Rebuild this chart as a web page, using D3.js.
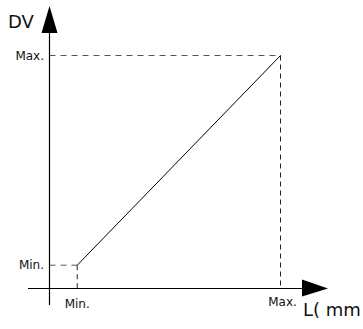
<!DOCTYPE html>
<html>
<head>
<meta charset="utf-8">
<script src="https://cdn.jsdelivr.net/npm/d3@7"></script>
<style>
  html, body { margin: 0; padding: 0; background: #fff; }
  svg { display: block; }
  text { font-family: "DejaVu Sans", sans-serif; fill: #111; }
</style>
</head>
<body>
<svg id="chart"></svg>
<script>
/* data */
const xLabels = ["Min.", "Max."];
const xValues = [12, 100];
const yLabels = ["Min.", "Max."];
const yValues = [10, 100];
const xTitle = "L( mm";
const yTitle = "DV";

/* chart */
!(function() {
  let width = 363;
  let height = 329;

  let svg = d3.select("#chart")
    .attr("width", width)
    .attr("height", height);

  // origin of the plot sits at (49.5, 288.5)
  let x = d3.scaleLinear().domain([0, 100]).range([49.5, 280.5]);
  let y = d3.scaleLinear().domain([0, 100]).range([288.5, 55.5]);

  let points = xValues.map((d, i) => ({ l: d, dv: yValues[i] }));

  // axes
  svg.append("line")
    .attr("x1", x(0)).attr("x2", x(0))
    .attr("y1", 305).attr("y2", 30)
    .attr("stroke", "#000").attr("stroke-width", 1.2);

  svg.append("line")
    .attr("x1", 28).attr("x2", 304)
    .attr("y1", y(0)).attr("y2", y(0))
    .attr("stroke", "#000").attr("stroke-width", 1.2);

  svg.append("path")
    .attr("d", `M${x(0)},6 L${x(0) - 8},33 L${x(0) + 8},33 Z`)
    .attr("fill", "#000");

  svg.append("path")
    .attr("d", `M328,${y(0)} L302,${y(0) - 9} L302,${y(0) + 8} Z`)
    .attr("fill", "#000");

  // guide dashes
  points.forEach(p => {
    svg.append("line")
      .attr("x1", x(0)).attr("x2", x(p.l))
      .attr("y1", y(p.dv)).attr("y2", y(p.dv))
      .attr("stroke", "#555").attr("stroke-dasharray", "6,5");
    svg.append("line")
      .attr("x1", x(p.l)).attr("x2", x(p.l))
      .attr("y1", y(p.dv)).attr("y2", y(0))
      .attr("stroke", "#222").attr("stroke-dasharray", "5,4");
  });

  // the DV / L line
  let line = d3.line()
    .x(d => x(d.l))
    .y(d => y(d.dv));

  svg.append("path")
    .datum(points)
    .attr("d", line)
    .attr("fill", "none")
    .attr("stroke", "#000")
    .attr("stroke-width", 1);

  // tick labels
  svg.selectAll(".ylab")
    .data(yLabels)
    .enter().append("text")
    .attr("class", "ylab")
    .attr("x", 44)
    .attr("y", (d, i) => y(yValues[i]) + 4)
    .attr("text-anchor", "end")
    .style("font-size", "12px")
    .text(d => d);

  svg.selectAll(".xlab")
    .data(xLabels)
    .enter().append("text")
    .attr("class", "xlab")
    .attr("x", (d, i) => x(xValues[i]) + (i == 1 ? 2 : 0))
    .attr("y", (d, i) => i == 0 ? 308 : 306)
    .attr("text-anchor", "middle")
    .style("font-size", "12px")
    .text(d => d);

  // titles
  svg.append("text")
    .attr("x", 8).attr("y", 28)
    .style("font-size", "18px")
    .text(yTitle);

  svg.append("text")
    .attr("x", 303).attr("y", 316)
    .style("font-size", "18px")
    .text(xTitle);
})();
</script>
</body>
</html>
